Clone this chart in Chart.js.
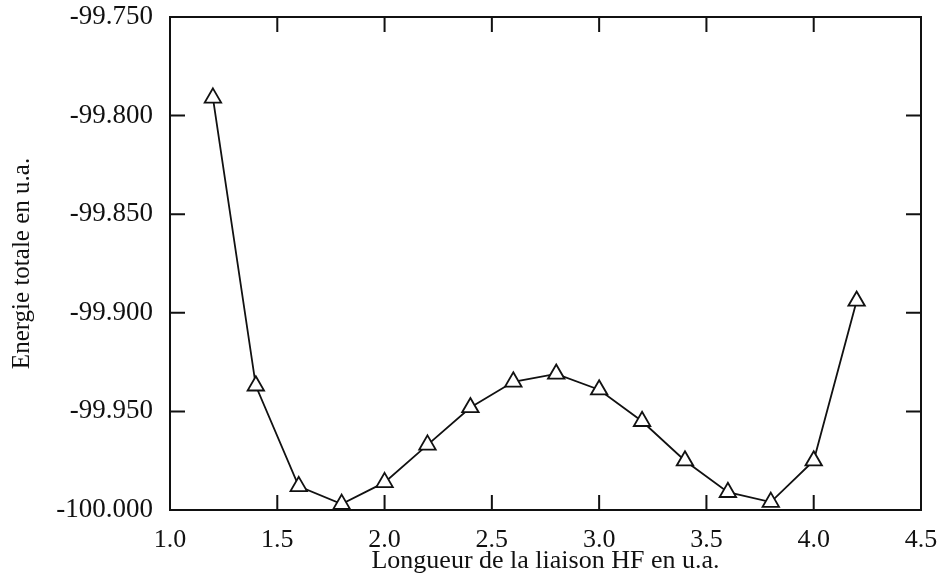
<!DOCTYPE html>
<html>
<head>
<meta charset="utf-8">
<script src="https://cdn.jsdelivr.net/npm/chart.js@4"></script>
<style>
  html, body { margin: 0; padding: 0; background: #fff; }
  #wrap { width: 943px; height: 580px; }
</style>
</head>
<body>
<div id="wrap"><canvas id="chart" width="943" height="580"></canvas></div>
<script>
// bond length (u.a.) and total energy (u.a.)
const longueurs = [1.2, 1.4, 1.6, 1.8, 2.0, 2.2, 2.4, 2.6, 2.8, 3.0, 3.2, 3.4, 3.6, 3.8, 4.0, 4.2];
const energies = [-99.791, -99.937, -99.988, -99.997, -99.986, -99.967, -99.948, -99.935,
                  -99.931, -99.939, -99.955, -99.975, -99.991, -99.996, -99.975, -99.894];
const xTicks = [1.0, 1.5, 2.0, 2.5, 3.0, 3.5, 4.0, 4.5];
const yTicks = [-100.0, -99.95, -99.9, -99.85, -99.8, -99.75];

const serif = "'Liberation Serif', 'DejaVu Serif', serif";

/* box + inward ticks on all four sides */
const boxPlugin = {
  id: "box",
  afterDraw(chart) {
    const { ctx, chartArea: a, scales } = chart;
    const len = 15;
    ctx.save();
    ctx.strokeStyle = "#111";
    ctx.lineWidth = 2;
    ctx.strokeRect(a.left, a.top, a.right - a.left, a.bottom - a.top);
    ctx.beginPath();
    xTicks.slice(1, -1).forEach(v => {
      const px = scales.x.getPixelForValue(v);
      ctx.moveTo(px, a.bottom); ctx.lineTo(px, a.bottom - len);
      ctx.moveTo(px, a.top); ctx.lineTo(px, a.top + len);
    });
    yTicks.slice(1, -1).forEach(v => {
      const py = scales.y.getPixelForValue(v);
      ctx.moveTo(a.left, py); ctx.lineTo(a.left + len, py);
      ctx.moveTo(a.right, py); ctx.lineTo(a.right - len, py);
    });
    ctx.stroke();
    ctx.restore();
  }
};

// let layout.padding alone decide the chart area edges
const noEdgePad = s => {
  s.paddingTop = 0; s.paddingBottom = 0; s.paddingLeft = 0; s.paddingRight = 0;
};

new Chart(document.getElementById("chart"), {
  type: "line",
  data: {
    datasets: [{
      data: longueurs.map((x, i) => ({ x, y: energies[i] })),
      borderColor: "#111",
      borderWidth: 1.8,
      pointStyle: "triangle",
      pointRadius: 9.5,
      pointBorderWidth: 1.8,
      pointBorderColor: "#111",
      pointBackgroundColor: "#fff",
      tension: 0
    }]
  },
  options: {
    responsive: false,
    animation: false,
    layout: { padding: { top: 17, right: 22, bottom: 3, left: 0 } },
    plugins: { legend: { display: false }, tooltip: { enabled: false } },
    scales: {
      x: {
        type: "linear",
        min: 1.0, max: 4.5,
        afterBuildTicks: s => { s.ticks = xTicks.map(v => ({ value: v })); },
        afterFit: s => { s.height = 67; noEdgePad(s); },
        grid: { display: false, drawTicks: false },
        border: { display: false },
        ticks: {
          padding: 15,
          color: "#111",
          font: { family: serif, size: 26 },
          callback: v => v.toFixed(1)
        },
        title: {
          display: true,
          text: "Longueur de la liaison HF en u.a.",
          color: "#111",
          padding: 0,
          font: { family: serif, size: 26 }
        }
      },
      y: {
        min: -100.0, max: -99.75,
        afterBuildTicks: s => { s.ticks = yTicks.map(v => ({ value: v })); },
        afterFit: s => { s.width = 170; noEdgePad(s); },
        grid: { display: false, drawTicks: false },
        border: { display: false },
        ticks: {
          padding: 17,
          color: "#111",
          font: { family: serif, size: 27 },
          callback: v => v.toFixed(3)
        },
        title: {
          display: true,
          text: "Energie totale en u.a.",
          color: "#111",
          padding: 7,
          font: { family: serif, size: 25 }
        }
      }
    }
  },
  plugins: [boxPlugin]
});
</script>
</body>
</html>
